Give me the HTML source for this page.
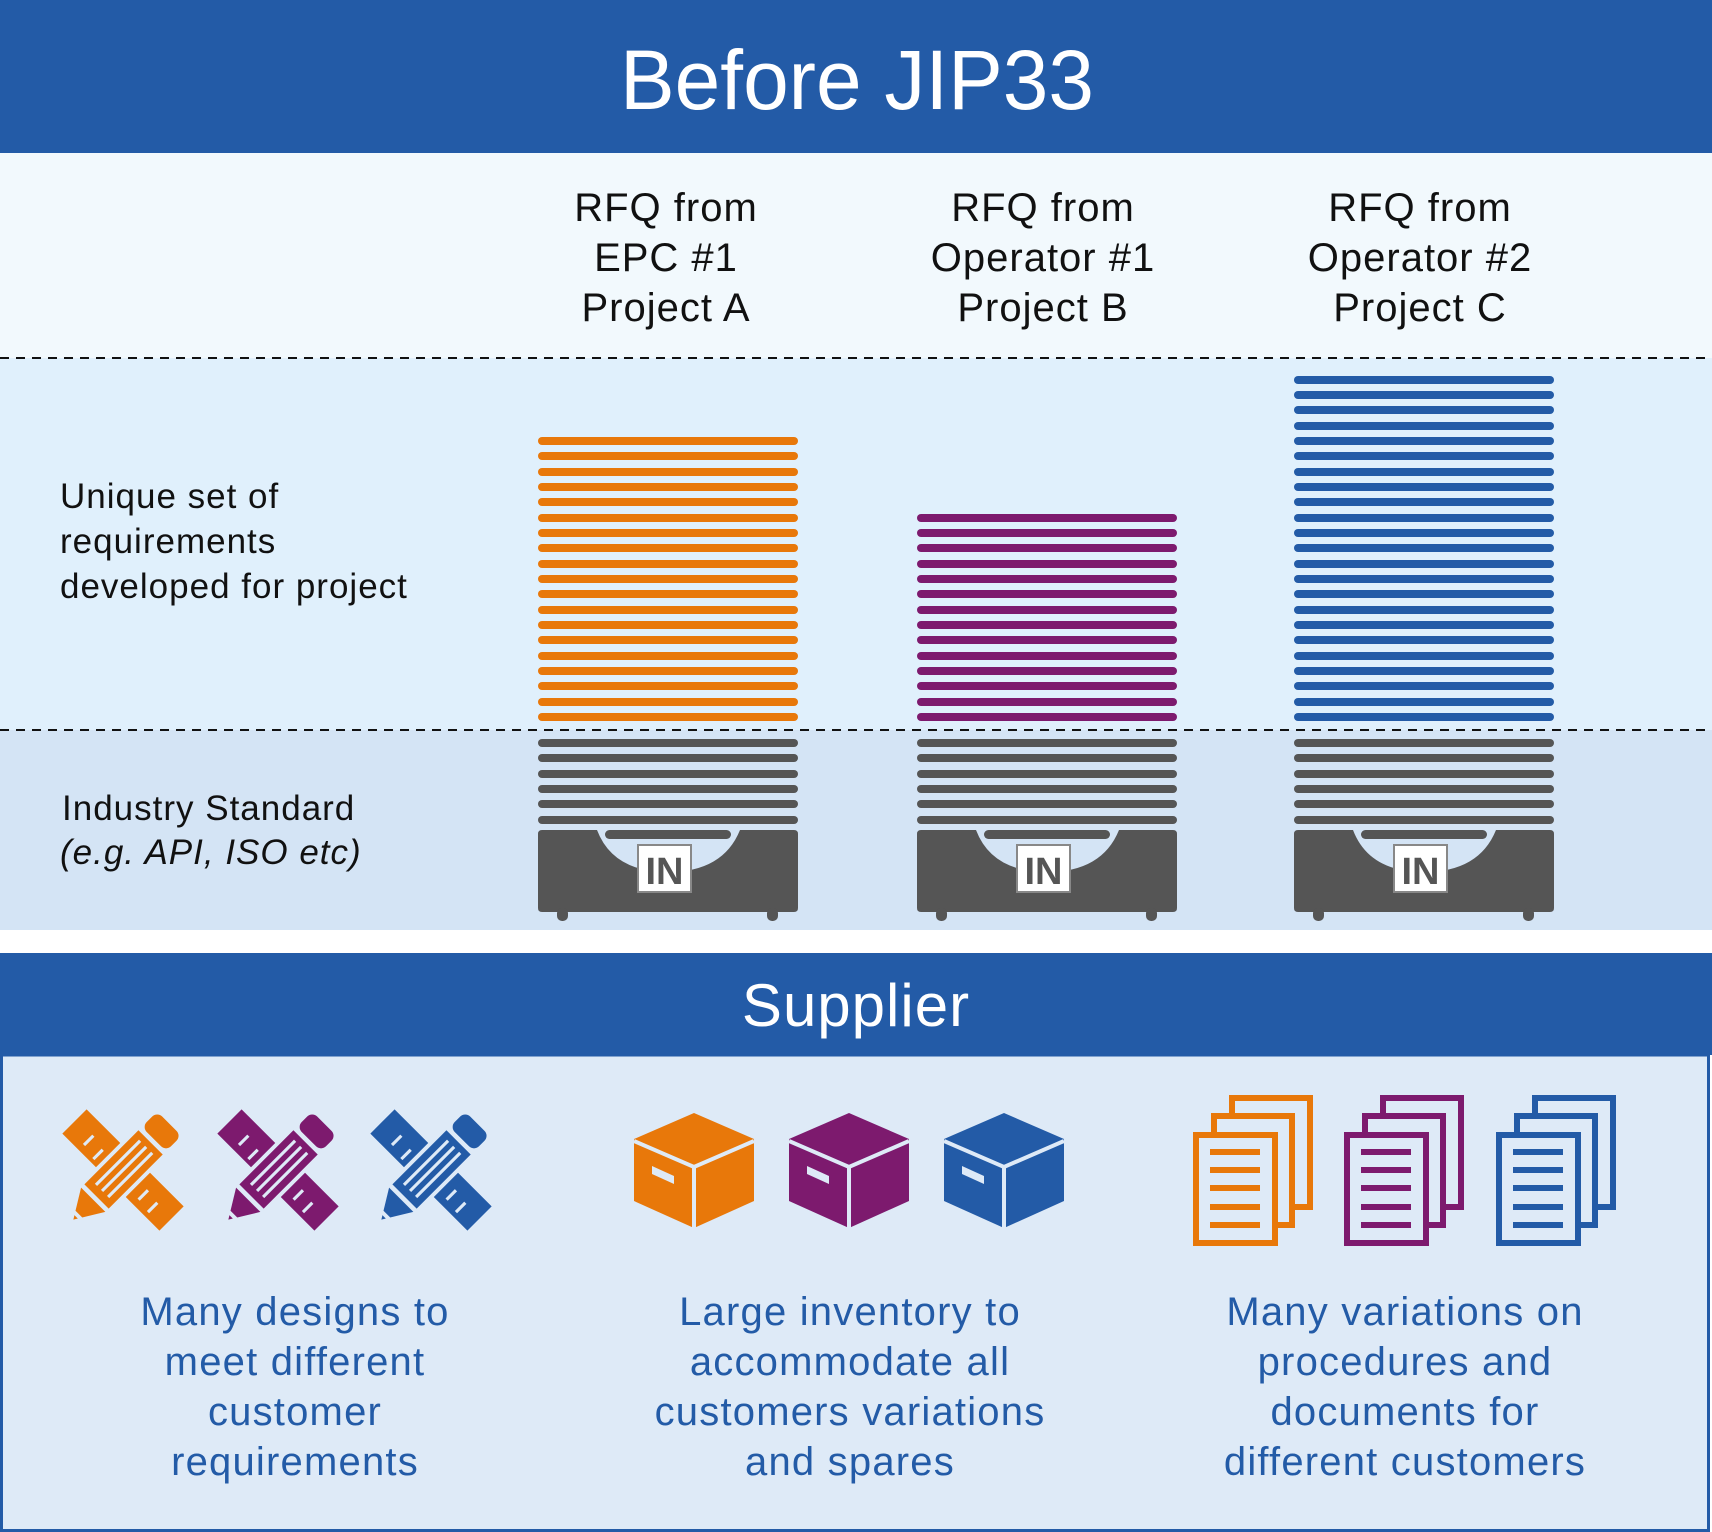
<!DOCTYPE html>
<html><head><meta charset="utf-8"><style>
html,body{margin:0;padding:0;background:#fff}
svg{display:block}
text{font-family:"Liberation Sans",sans-serif}
</style></head><body>
<svg width="1712" height="1532" viewBox="0 0 1712 1532" xmlns="http://www.w3.org/2000/svg">
<rect x="0" y="0" width="1712" height="153" fill="#235ba7"/>
<rect x="0" y="153" width="1712" height="205" fill="#f2f9fd"/>
<rect x="0" y="358" width="1712" height="372" fill="#e0f0fc"/>
<rect x="0" y="730" width="1712" height="200" fill="#d4e4f5"/>
<rect x="0" y="953" width="1712" height="102" fill="#235ba7"/>
<rect x="1.5" y="1055" width="1707" height="475.5" fill="#deeaf7" stroke="#235ba7" stroke-width="3"/>
<line x1="0" y1="358" x2="1712" y2="358" stroke="#111" stroke-width="2" stroke-dasharray="9,7"/>
<line x1="0" y1="730" x2="1712" y2="730" stroke="#111" stroke-width="2" stroke-dasharray="9,7"/>

<text x="857" y="109" text-anchor="middle" font-size="84" fill="#fff" textLength="474" lengthAdjust="spacingAndGlyphs">Before JIP33</text>

<g font-size="40" fill="#111" text-anchor="middle" letter-spacing="1">
  <text x="666" y="221">RFQ from</text><text x="666" y="271">EPC #1</text><text x="666" y="321">Project A</text>
  <text x="1043" y="221">RFQ from</text><text x="1043" y="271">Operator #1</text><text x="1043" y="321">Project B</text>
  <text x="1420" y="221">RFQ from</text><text x="1420" y="271">Operator #2</text><text x="1420" y="321">Project C</text>
</g>
<g font-size="35" fill="#111" letter-spacing="1">
  <text x="60" y="508">Unique set of</text>
  <text x="60" y="553">requirements</text>
  <text x="60" y="598">developed for project</text>
  <text x="62" y="820">Industry Standard</text>
  <text x="60" y="864" font-style="italic">(e.g. API, ISO etc)</text>
</g>

<!-- orange stack -->
<g transform="translate(538,0)" fill="#e8780a">
<rect y="713" width="260" height="8" rx="4"/><rect y="698" width="260" height="8" rx="4"/><rect y="682" width="260" height="8" rx="4"/><rect y="667" width="260" height="8" rx="4"/><rect y="652" width="260" height="8" rx="4"/><rect y="636" width="260" height="8" rx="4"/><rect y="621" width="260" height="8" rx="4"/><rect y="606" width="260" height="8" rx="4"/><rect y="590" width="260" height="8" rx="4"/><rect y="575" width="260" height="8" rx="4"/><rect y="560" width="260" height="8" rx="4"/><rect y="544" width="260" height="8" rx="4"/><rect y="529" width="260" height="8" rx="4"/><rect y="514" width="260" height="8" rx="4"/><rect y="498" width="260" height="8" rx="4"/><rect y="483" width="260" height="8" rx="4"/><rect y="468" width="260" height="8" rx="4"/><rect y="452" width="260" height="8" rx="4"/><rect y="437" width="260" height="8" rx="4"/>
</g>
<!-- purple stack -->
<g transform="translate(917,0)" fill="#7d1a6e">
<rect y="713" width="260" height="8" rx="4"/><rect y="698" width="260" height="8" rx="4"/><rect y="682" width="260" height="8" rx="4"/><rect y="667" width="260" height="8" rx="4"/><rect y="652" width="260" height="8" rx="4"/><rect y="636" width="260" height="8" rx="4"/><rect y="621" width="260" height="8" rx="4"/><rect y="606" width="260" height="8" rx="4"/><rect y="590" width="260" height="8" rx="4"/><rect y="575" width="260" height="8" rx="4"/><rect y="560" width="260" height="8" rx="4"/><rect y="544" width="260" height="8" rx="4"/><rect y="529" width="260" height="8" rx="4"/><rect y="514" width="260" height="8" rx="4"/>
</g>
<!-- blue stack -->
<g transform="translate(1294,0)" fill="#235ba7">
<rect y="713" width="260" height="8" rx="4"/><rect y="698" width="260" height="8" rx="4"/><rect y="682" width="260" height="8" rx="4"/><rect y="667" width="260" height="8" rx="4"/><rect y="652" width="260" height="8" rx="4"/><rect y="636" width="260" height="8" rx="4"/><rect y="621" width="260" height="8" rx="4"/><rect y="606" width="260" height="8" rx="4"/><rect y="590" width="260" height="8" rx="4"/><rect y="575" width="260" height="8" rx="4"/><rect y="560" width="260" height="8" rx="4"/><rect y="544" width="260" height="8" rx="4"/><rect y="529" width="260" height="8" rx="4"/><rect y="514" width="260" height="8" rx="4"/><rect y="498" width="260" height="8" rx="4"/><rect y="483" width="260" height="8" rx="4"/><rect y="468" width="260" height="8" rx="4"/><rect y="452" width="260" height="8" rx="4"/><rect y="437" width="260" height="8" rx="4"/><rect y="422" width="260" height="8" rx="4"/><rect y="406" width="260" height="8" rx="4"/><rect y="391" width="260" height="8" rx="4"/><rect y="376" width="260" height="8" rx="4"/>
</g>

<!-- gray bars + trays -->
<g transform="translate(538,0)" fill="#555">
<rect y="739" width="260" height="8" rx="4"/><rect y="754" width="260" height="8" rx="4"/><rect y="770" width="260" height="8" rx="4"/><rect y="785" width="260" height="8" rx="4"/><rect y="800" width="260" height="8" rx="4"/><rect y="816" width="260" height="8" rx="4"/>
<g transform="translate(0,830)">
<path d="M0,4 Q0,0 4,0 L59,0 Q75,42 130,42 Q185,42 202,0 L256,0 Q260,0 260,4 L260,78 Q260,82 256,82 L4,82 Q0,82 0,78 Z"/>
<rect x="67" y="0" width="126" height="9" rx="4.5"/>
<rect x="19" y="78" width="11" height="13" rx="5"/><rect x="229" y="78" width="11" height="13" rx="5"/>
<rect x="100" y="15" width="53" height="47" fill="#fff" stroke="#888" stroke-width="2"/>
<text x="126.5" y="54" text-anchor="middle" font-size="38" font-weight="bold">IN</text>
</g></g>
<g transform="translate(917,0)" fill="#555">
<rect y="739" width="260" height="8" rx="4"/><rect y="754" width="260" height="8" rx="4"/><rect y="770" width="260" height="8" rx="4"/><rect y="785" width="260" height="8" rx="4"/><rect y="800" width="260" height="8" rx="4"/><rect y="816" width="260" height="8" rx="4"/>
<g transform="translate(0,830)">
<path d="M0,4 Q0,0 4,0 L59,0 Q75,42 130,42 Q185,42 202,0 L256,0 Q260,0 260,4 L260,78 Q260,82 256,82 L4,82 Q0,82 0,78 Z"/>
<rect x="67" y="0" width="126" height="9" rx="4.5"/>
<rect x="19" y="78" width="11" height="13" rx="5"/><rect x="229" y="78" width="11" height="13" rx="5"/>
<rect x="100" y="15" width="53" height="47" fill="#fff" stroke="#888" stroke-width="2"/>
<text x="126.5" y="54" text-anchor="middle" font-size="38" font-weight="bold">IN</text>
</g></g>
<g transform="translate(1294,0)" fill="#555">
<rect y="739" width="260" height="8" rx="4"/><rect y="754" width="260" height="8" rx="4"/><rect y="770" width="260" height="8" rx="4"/><rect y="785" width="260" height="8" rx="4"/><rect y="800" width="260" height="8" rx="4"/><rect y="816" width="260" height="8" rx="4"/>
<g transform="translate(0,830)">
<path d="M0,4 Q0,0 4,0 L59,0 Q75,42 130,42 Q185,42 202,0 L256,0 Q260,0 260,4 L260,78 Q260,82 256,82 L4,82 Q0,82 0,78 Z"/>
<rect x="67" y="0" width="126" height="9" rx="4.5"/>
<rect x="19" y="78" width="11" height="13" rx="5"/><rect x="229" y="78" width="11" height="13" rx="5"/>
<rect x="100" y="15" width="53" height="47" fill="#fff" stroke="#888" stroke-width="2"/>
<text x="126.5" y="54" text-anchor="middle" font-size="38" font-weight="bold">IN</text>
</g></g>

<text x="856" y="1026" text-anchor="middle" font-size="60" fill="#fff" letter-spacing="1">Supplier</text>

<!-- pencils -->
<g transform="translate(63,1108) translate(60,62) scale(0.78) translate(-60,-62)" fill="#e8780a">
<g transform="translate(60,62) rotate(45)"><rect x="-88" y="-22" width="176" height="44"/></g>
<g transform="translate(60,62) rotate(-45)">
<rect x="-52" y="-27" width="110" height="54" fill="#deeaf7"/><rect x="-48" y="-22" width="98" height="44"/><rect x="56" y="-22" width="28" height="44" rx="9"/><polygon points="-54,-22 -54,22 -90,0"/><rect x="-85" y="-12" width="5" height="24" fill="#deeaf7"/>
<rect x="-38" y="-13" width="80" height="4" fill="#deeaf7"/><rect x="-38" y="-2" width="80" height="4" fill="#deeaf7"/><rect x="-38" y="9" width="80" height="4" fill="#deeaf7"/></g>
<g stroke="#deeaf7" stroke-width="4"><line x1="10" y1="30" x2="22" y2="18"/><line x1="22" y1="48" x2="34" y2="36"/><line x1="80" y1="100" x2="92" y2="88"/><line x1="92" y1="116" x2="104" y2="104"/></g>
</g>
<g transform="translate(218,1108) translate(60,62) scale(0.78) translate(-60,-62)" fill="#7d1a6e">
<g transform="translate(60,62) rotate(45)"><rect x="-88" y="-22" width="176" height="44"/></g>
<g transform="translate(60,62) rotate(-45)">
<rect x="-52" y="-27" width="110" height="54" fill="#deeaf7"/><rect x="-48" y="-22" width="98" height="44"/><rect x="56" y="-22" width="28" height="44" rx="9"/><polygon points="-54,-22 -54,22 -90,0"/><rect x="-85" y="-12" width="5" height="24" fill="#deeaf7"/>
<rect x="-38" y="-13" width="80" height="4" fill="#deeaf7"/><rect x="-38" y="-2" width="80" height="4" fill="#deeaf7"/><rect x="-38" y="9" width="80" height="4" fill="#deeaf7"/></g>
<g stroke="#deeaf7" stroke-width="4"><line x1="10" y1="30" x2="22" y2="18"/><line x1="22" y1="48" x2="34" y2="36"/><line x1="80" y1="100" x2="92" y2="88"/><line x1="92" y1="116" x2="104" y2="104"/></g>
</g>
<g transform="translate(371,1108) translate(60,62) scale(0.78) translate(-60,-62)" fill="#235ba7">
<g transform="translate(60,62) rotate(45)"><rect x="-88" y="-22" width="176" height="44"/></g>
<g transform="translate(60,62) rotate(-45)">
<rect x="-52" y="-27" width="110" height="54" fill="#deeaf7"/><rect x="-48" y="-22" width="98" height="44"/><rect x="56" y="-22" width="28" height="44" rx="9"/><polygon points="-54,-22 -54,22 -90,0"/><rect x="-85" y="-12" width="5" height="24" fill="#deeaf7"/>
<rect x="-38" y="-13" width="80" height="4" fill="#deeaf7"/><rect x="-38" y="-2" width="80" height="4" fill="#deeaf7"/><rect x="-38" y="9" width="80" height="4" fill="#deeaf7"/></g>
<g stroke="#deeaf7" stroke-width="4"><line x1="10" y1="30" x2="22" y2="18"/><line x1="22" y1="48" x2="34" y2="36"/><line x1="80" y1="100" x2="92" y2="88"/><line x1="92" y1="116" x2="104" y2="104"/></g>
</g>

<!-- boxes -->
<g transform="translate(634,1113)" fill="#e8780a">
<polygon points="60,0 120,26 120,88 60,115 0,88 0,26"/><polyline points="0,28 60,54 120,28" fill="none" stroke="#deeaf7" stroke-width="4"/><line x1="60" y1="54" x2="60" y2="116" stroke="#deeaf7" stroke-width="4"/><polygon points="18,53 40,63 40,71 18,61" fill="#deeaf7"/>
</g>
<g transform="translate(789,1113)" fill="#7d1a6e">
<polygon points="60,0 120,26 120,88 60,115 0,88 0,26"/><polyline points="0,28 60,54 120,28" fill="none" stroke="#deeaf7" stroke-width="4"/><line x1="60" y1="54" x2="60" y2="116" stroke="#deeaf7" stroke-width="4"/><polygon points="18,53 40,63 40,71 18,61" fill="#deeaf7"/>
</g>
<g transform="translate(944,1113)" fill="#235ba7">
<polygon points="60,0 120,26 120,88 60,115 0,88 0,26"/><polyline points="0,28 60,54 120,28" fill="none" stroke="#deeaf7" stroke-width="4"/><line x1="60" y1="54" x2="60" y2="116" stroke="#deeaf7" stroke-width="4"/><polygon points="18,53 40,63 40,71 18,61" fill="#deeaf7"/>
</g>

<!-- docs -->
<g transform="translate(1193,1095)" fill="#deeaf7" stroke="#e8780a" stroke-width="6">
<rect x="39" y="3" width="78" height="109"/><rect x="21" y="21" width="78" height="109"/><rect x="3" y="40" width="79" height="108"/>
<line x1="17" y1="57" x2="67" y2="57"/><line x1="17" y1="75" x2="67" y2="75"/><line x1="17" y1="93" x2="67" y2="93"/><line x1="17" y1="112" x2="67" y2="112"/><line x1="17" y1="130" x2="67" y2="130"/>
</g>
<g transform="translate(1344,1095)" fill="#deeaf7" stroke="#7d1a6e" stroke-width="6">
<rect x="39" y="3" width="78" height="109"/><rect x="21" y="21" width="78" height="109"/><rect x="3" y="40" width="79" height="108"/>
<line x1="17" y1="57" x2="67" y2="57"/><line x1="17" y1="75" x2="67" y2="75"/><line x1="17" y1="93" x2="67" y2="93"/><line x1="17" y1="112" x2="67" y2="112"/><line x1="17" y1="130" x2="67" y2="130"/>
</g>
<g transform="translate(1496,1095)" fill="#deeaf7" stroke="#235ba7" stroke-width="6">
<rect x="39" y="3" width="78" height="109"/><rect x="21" y="21" width="78" height="109"/><rect x="3" y="40" width="79" height="108"/>
<line x1="17" y1="57" x2="67" y2="57"/><line x1="17" y1="75" x2="67" y2="75"/><line x1="17" y1="93" x2="67" y2="93"/><line x1="17" y1="112" x2="67" y2="112"/><line x1="17" y1="130" x2="67" y2="130"/>
</g>

<g font-size="40" fill="#235ba7" text-anchor="middle" letter-spacing="1.2">
  <text x="295" y="1325">Many designs to</text><text x="295" y="1375">meet different</text><text x="295" y="1425">customer</text><text x="295" y="1475">requirements</text>
  <text x="850" y="1325">Large inventory to</text><text x="850" y="1375">accommodate all</text><text x="850" y="1425">customers variations</text><text x="850" y="1475">and spares</text>
  <text x="1405" y="1325">Many variations on</text><text x="1405" y="1375">procedures and</text><text x="1405" y="1425">documents for</text><text x="1405" y="1475">different customers</text>
</g>
</svg>
</body></html>
